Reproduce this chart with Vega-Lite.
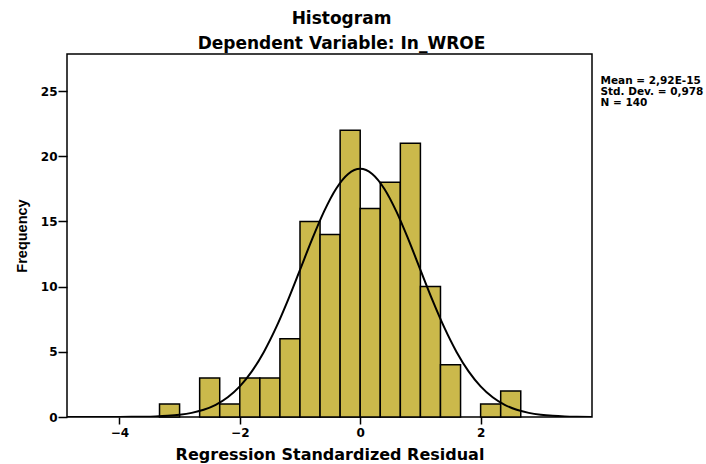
{
  "$schema": "https://vega.github.io/schema/vega-lite/v6.json",
  "autosize": "none",
  "width": 525,
  "height": 363,
  "padding": {"left": 67, "top": 54, "right": 114, "bottom": 47},
  "background": "white",
  "config": {
    "view": {"stroke": "#000000", "strokeWidth": 1.5},
    "axis": {"grid": false, "domain": false, "tickColor": "#000000", "tickWidth": 1.5, "labelColor": "#000000", "titleColor": "#000000", "labelFont": "DejaVu Sans", "labelFontWeight": "bold", "titleFontWeight": "bold"}
  },
  "title": {
    "text": ["Histogram", "Dependent Variable: In_WROE"],
    "font": "DejaVu Sans",
    "fontSize": 17,
    "fontWeight": "bold",
    "color": "#000000",
    "anchor": "middle",
    "frame": "group",
    "dx": 12,
    "lineHeight": 25,
    "offset": 1
  },
  "datasets": {
    "bins": [
      {"start": -3.3333, "end": -3.0, "count": 1},
      {"start": -2.6667, "end": -2.3333, "count": 3},
      {"start": -2.3333, "end": -2.0, "count": 1},
      {"start": -2.0, "end": -1.6667, "count": 3},
      {"start": -1.6667, "end": -1.3333, "count": 3},
      {"start": -1.3333, "end": -1.0, "count": 6},
      {"start": -1.0, "end": -0.6667, "count": 15},
      {"start": -0.6667, "end": -0.3333, "count": 14},
      {"start": -0.3333, "end": 0.0, "count": 22},
      {"start": 0.0, "end": 0.3333, "count": 16},
      {"start": 0.3333, "end": 0.6667, "count": 18},
      {"start": 0.6667, "end": 1.0, "count": 21},
      {"start": 1.0, "end": 1.3333, "count": 10},
      {"start": 1.3333, "end": 1.6667, "count": 4},
      {"start": 2.0, "end": 2.3333, "count": 1},
      {"start": 2.3333, "end": 2.6667, "count": 2}
    ],
    "curve": [
      {"x": -4.87, "y": 0.0001},
      {"x": -4.6, "y": 0.0003},
      {"x": -4.4, "y": 0.0008},
      {"x": -4.2, "y": 0.0019},
      {"x": -4.0, "y": 0.0044},
      {"x": -3.8, "y": 0.010},
      {"x": -3.6, "y": 0.022},
      {"x": -3.4, "y": 0.045},
      {"x": -3.2, "y": 0.090},
      {"x": -3.0, "y": 0.172},
      {"x": -2.8, "y": 0.316},
      {"x": -2.6, "y": 0.556},
      {"x": -2.4, "y": 0.937},
      {"x": -2.2, "y": 1.516},
      {"x": -2.0, "y": 2.352},
      {"x": -1.8, "y": 3.499},
      {"x": -1.6, "y": 4.993},
      {"x": -1.4, "y": 6.833},
      {"x": -1.2, "y": 8.967},
      {"x": -1.0, "y": 11.287},
      {"x": -0.8, "y": 13.623},
      {"x": -0.6, "y": 15.771},
      {"x": -0.4, "y": 17.509},
      {"x": -0.2, "y": 18.642},
      {"x": 0.0, "y": 19.036},
      {"x": 0.2, "y": 18.642},
      {"x": 0.4, "y": 17.509},
      {"x": 0.6, "y": 15.771},
      {"x": 0.8, "y": 13.623},
      {"x": 1.0, "y": 11.287},
      {"x": 1.2, "y": 8.967},
      {"x": 1.4, "y": 6.833},
      {"x": 1.6, "y": 4.993},
      {"x": 1.8, "y": 3.499},
      {"x": 2.0, "y": 2.352},
      {"x": 2.2, "y": 1.516},
      {"x": 2.4, "y": 0.937},
      {"x": 2.6, "y": 0.556},
      {"x": 2.8, "y": 0.316},
      {"x": 3.0, "y": 0.172},
      {"x": 3.2, "y": 0.090},
      {"x": 3.4, "y": 0.045},
      {"x": 3.6, "y": 0.022},
      {"x": 3.85, "y": 0.008}
    ],
    "stats": [
      {"stat": "Mean = 2,92E-15"},
      {"stat": "Std. Dev. = 0,978"},
      {"stat": "N = 140"}
    ]
  },
  "layer": [
    {
      "data": {"name": "bins"},
      "mark": {"type": "bar", "fill": "#CBB94B", "stroke": "#000000", "strokeWidth": 1.5},
      "encoding": {
        "x": {
          "field": "start", "type": "quantitative",
          "scale": {"domain": [-4.87, 3.85], "nice": false, "zero": false},
          "axis": {"values": [-4, -2, 0, 2], "format": "d", "tickSize": 7, "labelPadding": 3, "labelFontSize": 12, "title": "Regression Standardized Residual", "titleFont": "DejaVu Sans", "titleFontSize": 16, "titlePadding": 8}
        },
        "x2": {"field": "end"},
        "y": {
          "field": "count", "type": "quantitative",
          "scale": {"domain": [0, 27.84], "nice": false},
          "axis": {"values": [0, 5, 10, 15, 20, 25], "tickSize": 9, "labelPadding": 1, "labelFontSize": 12, "title": "Frequency", "titleFont": "Liberation Sans", "titleFontSize": 14.5, "titlePadding": 11}
        },
        "y2": {"datum": 0}
      }
    },
    {
      "data": {"name": "curve"},
      "mark": {"type": "line", "color": "#000000", "strokeWidth": 2, "interpolate": "monotone", "clip": true},
      "encoding": {
        "x": {"field": "x", "type": "quantitative"},
        "y": {"field": "y", "type": "quantitative"}
      }
    },
    {
      "data": {"name": "stats"},
      "mark": {"type": "point", "opacity": 0},
      "encoding": {
        "color": {
          "field": "stat", "type": "nominal",
          "scale": {"domain": ["Mean = 2,92E-15", "Std. Dev. = 0,978", "N = 140"], "range": ["#000000", "#000000", "#000000"]},
          "legend": {"title": null, "orient": "none", "legendX": 522, "legendY": 22, "padding": 0, "symbolSize": 0, "symbolStrokeWidth": 0, "symbolOpacity": 0, "labelOffset": 1, "labelFont": "DejaVu Sans", "labelFontWeight": "bold", "labelFontSize": 10.5, "labelColor": "#000000", "rowPadding": -7, "labelLimit": 200}
        }
      }
    }
  ]
}
